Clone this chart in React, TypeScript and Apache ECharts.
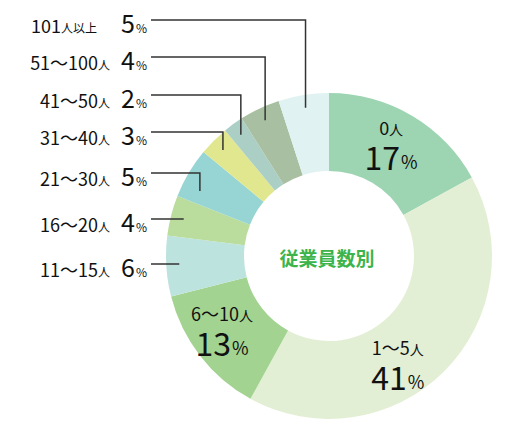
import React, { useEffect, useRef } from 'react';
import * as echarts from 'echarts';

const categories = ['0人', '1〜5人', '6〜10人', '11〜15人', '16〜20人', '21〜30人', '31〜40人', '41〜50人', '51〜100人', '101人以上'];
const shares = [17, 41, 13, 6, 4, 5, 3, 2, 4, 5];
const sliceColors = ['#9dd4b2', '#e3efd5', '#a3d390', '#bde3de', '#badc9c', '#96d5d3', '#e1e78f', '#abcfc5', '#a9bfa1', '#e0f2f1'];
const centerTitle = '従業員数別';

// layout
const CX = 329;
const CY = 256;
const R_IN = 85;
const R_OUT = 163;
const FONT = '"Noto Sans CJK JP", "Noto Sans", sans-serif';
const insideCount = 3;
const insideShift = [[-1, -7], [-19, 18], [-9, -4]];
const rowY = [264, 219, 173, 132, 95, 57, 20];
const LABEL_RIGHT = 147;
const LINE_START = 151;
const ANCHOR_R = 150;

const splitName = (name: string) => {
  const m = name.match(/^(.*?)(人.*)$/);
  return m ? [m[1], m[2]] : [name, ''];
};

const App: React.FC = () => {
  const chartRef = useRef<HTMLDivElement>(null);

  useEffect(() => {
    if (!chartRef.current) return;
    const chart = echarts.init(chartRef.current, null, { renderer: 'svg' });

    const total = shares.reduce((a, b) => a + b, 0);
    let acc = 0;
    const midAngles = shares.map((v) => {
      const a = 90 - ((acc + v / 2) / total) * 360;
      acc += v;
      return (a * Math.PI) / 180;
    });
    const R_MID = (R_IN + R_OUT) / 2;

    // elbow leader lines for the small slices
    const leaders: any[] = [];
    shares.forEach((_, i) => {
      if (i < insideCount) return;
      const a = midAngles[i];
      const ax = CX + ANCHOR_R * Math.cos(a);
      const ay = CY - ANCHOR_R * Math.sin(a);
      const y = rowY[i - insideCount];
      const points =
        ay - y < 5
          ? [[LINE_START, y], [ax, y]]
          : [[LINE_START, y], [ax, y], [ax, Math.max(ay, y + 18)]];
      leaders.push({
        type: 'polyline',
        silent: true,
        z: 10,
        shape: { points },
        style: { stroke: '#333333', lineWidth: 1.5, fill: null },
      });
    });

    const option: any = {
      animation: false,
      textStyle: { fontFamily: FONT },
      graphic: [
        ...leaders,
        {
          type: 'text',
          x: CX - 2,
          y: CY + 1,
          z: 10,
          style: {
            text: centerTitle,
            fill: '#3cb44b',
            font: `bold 19px ${FONT}`,
            align: 'center',
            verticalAlign: 'middle',
          },
        },
      ],
      series: [
        {
          type: 'pie',
          center: [CX, CY],
          radius: [R_IN, R_OUT],
          startAngle: 90,
          clockwise: true,
          avoidLabelOverlap: false,
          emphasis: { disabled: true },
          data: categories.map((name, i) => ({
            name,
            value: shares[i],
            itemStyle: { color: sliceColors[i] },
          })),
          labelLine: { show: false },
          label: {
            show: true,
            position: 'inside',
            color: '#111111',
            fontFamily: FONT,
            formatter: (p: any) => {
              const [num, unit] = splitName(p.name);
              if (p.dataIndex < insideCount) {
                return `{n|${num}}{u|${unit}}\n{p|${p.value}}{s|%}`;
              }
              const gap = p.dataIndex === categories.length - 1 ? 'g2' : 'g';
              return `{on|${num}}{ou|${unit}}{${gap}| }{op|${p.value}}{os|%}`;
            },
            rich: {
              n: { fontSize: 18, lineHeight: 24, color: '#111', fontFamily: FONT, verticalAlign: 'bottom' },
              u: { fontSize: 14, lineHeight: 22, color: '#111', fontFamily: FONT, verticalAlign: 'bottom' },
              p: { fontSize: 32, lineHeight: 36, color: '#111', fontFamily: FONT, verticalAlign: 'bottom' },
              s: { fontSize: 18, lineHeight: 25, color: '#111', fontFamily: FONT, verticalAlign: 'bottom', padding: [0, 0, 2, 1] },
              on: { fontSize: 18, lineHeight: 22, color: '#111', fontFamily: FONT, verticalAlign: 'bottom' },
              ou: { fontSize: 12, lineHeight: 18, color: '#111', fontFamily: FONT, verticalAlign: 'bottom', padding: [0, 0, 1, 0] },
              g: { width: 11, fontSize: 11 },
              g2: { width: 24, fontSize: 11 },
              op: { fontSize: 25, lineHeight: 28, color: '#111', fontFamily: FONT, verticalAlign: 'bottom' },
              os: { fontSize: 12, lineHeight: 18, color: '#111', fontFamily: FONT, verticalAlign: 'bottom', padding: [0, 0, 1, 1] },
            },
          },
          labelLayout: (p: any) => {
            const i = p.dataIndex;
            if (i < insideCount) {
              const a = midAngles[i];
              return {
                x: CX + R_MID * Math.cos(a) + insideShift[i][0],
                y: CY - R_MID * Math.sin(a) + insideShift[i][1],
                align: 'center',
                verticalAlign: 'middle',
              };
            }
            return { x: LABEL_RIGHT, y: rowY[i - insideCount], align: 'right', verticalAlign: 'middle' };
          },
        },
      ],
    };

    chart.setOption(option);
    return () => chart.dispose();
  }, []);

  return (
    <div
      ref={chartRef}
      style={{ position: 'absolute', left: 0, top: 0, width: '520px', height: '430px' }}
    />
  );
};

export default App;
